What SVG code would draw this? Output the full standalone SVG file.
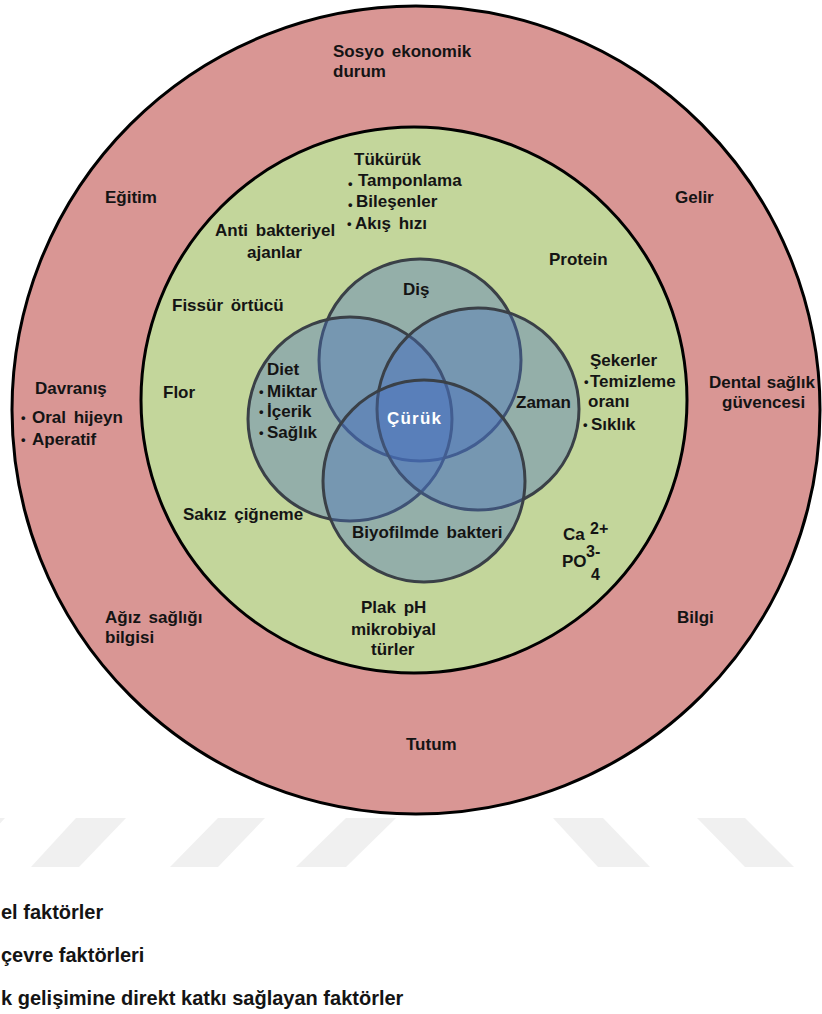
<svg xmlns="http://www.w3.org/2000/svg" width="822" height="1014" viewBox="0 0 822 1014">
<style>
text{font-family:"Liberation Sans",Arial,sans-serif;font-weight:bold;font-size:17px;fill:#141414;word-spacing:3px}
.b{font-size:13px}
.sm{font-size:16px}
.lg{font-size:20px;word-spacing:0}
.w{fill:#ffffff;letter-spacing:1.2px}
.ring{stroke:#000;stroke-width:3}
.venn{fill:#4672C0;fill-opacity:0.38;stroke:#3A4047;stroke-width:3}
.wm{fill:#F0F0F0}
</style>
<rect width="822" height="1014" fill="#ffffff"/>
<g id="watermark">
<polygon class="wm" points="-40,818 5,818 -40,867 -85,867"/>
<polygon class="wm" points="76,818 126,818 79,867 31,867"/>
<polygon class="wm" points="218,818 265,818 218,867 170,867"/>
<polygon class="wm" points="346,818 396,818 346,867 296,867"/>
<polygon class="wm" points="553,818 603,818 650,867 598,867"/>
<polygon class="wm" points="697,818 745,818 794,867 745,867"/>
</g>
<g id="outer-ring">
<ellipse class="ring" cx="416" cy="410" rx="404" ry="404" fill="#D99694"/>
</g>
<g id="inner-ring">
<ellipse class="ring" cx="414" cy="400" rx="273" ry="273" fill="#C3D69B"/>
</g>
<g id="venn-dis"><circle class="venn" cx="420" cy="360" r="101"/></g>
<g id="venn-diet"><circle class="venn" cx="350" cy="419" r="102"/></g>
<g id="venn-zaman"><circle class="venn" cx="478" cy="409" r="101"/></g>
<g id="venn-biyofilm"><circle class="venn" cx="424" cy="481" r="101"/></g>
<g id="connectors"></g>
<g id="outer-labels">
<text x="333" y="57">Sosyo ekonomik</text>
<text x="333" y="77">durum</text>
<text x="105" y="203">Eğitim</text>
<text x="675" y="203">Gelir</text>
<text x="35" y="394">Davranış</text>
<text class="b" x="21" y="422">•</text><text x="32" y="423">Oral hijeyn</text>
<text class="b" x="21" y="444">•</text><text x="32" y="445">Aperatif</text>
<text x="709" y="388" style="word-spacing:1px">Dental sağlık</text>
<text x="722" y="408">güvencesi</text>
<text x="105" y="623">Ağız sağlığı</text>
<text x="105" y="643">bilgisi</text>
<text x="677" y="623">Bilgi</text>
<text x="406" y="750">Tutum</text>
</g>
<g id="inner-labels">
<text x="354" y="165">Tükürük</text>
<text class="b" x="348" y="188">•</text><text x="358" y="186">Tamponlama</text>
<text class="b" x="348" y="209">•</text><text x="356" y="207">Bileşenler</text>
<text class="b" x="347" y="228">•</text><text x="355" y="229">Akış hızı</text>
<text x="215" y="236">Anti bakteriyel</text>
<text x="247" y="258">ajanlar</text>
<text x="549" y="265">Protein</text>
<text x="172" y="311">Fissür örtücü</text>
<text x="163" y="398">Flor</text>
<text x="590" y="366">Şekerler</text>
<text class="b" x="584" y="386">•</text><text x="590" y="387">Temizleme</text>
<text x="588" y="407">oranı</text>
<text class="b" x="583" y="429">•</text><text x="591" y="430">Sıklık</text>
<text x="183" y="520">Sakız çiğneme</text>
<text x="563" y="540">Ca</text><text class="sm" x="590" y="534">2+</text>
<text x="562" y="567">PO</text><text class="sm" x="586" y="557">3-</text><text class="sm" x="591" y="580">4</text>
<text x="361" y="613">Plak pH</text>
<text x="351" y="635">mikrobiyal</text>
<text x="371" y="655">türler</text>
</g>
<g id="venn-labels">
<text x="403" y="295">Diş</text>
<text x="267" y="375">Diet</text>
<text class="b" x="259" y="396">•</text><text x="267" y="397">Miktar</text>
<text class="b" x="259" y="416">•</text><text x="267" y="417">İçerik</text>
<text class="b" x="259" y="437">•</text><text x="267" y="438">Sağlık</text>
<text x="516" y="408">Zaman</text>
<text x="352" y="538">Biyofilmde bakteri</text>
<text class="w" x="387" y="424">Çürük</text>
</g>
<g id="legend">
<text class="lg" x="1" y="919">el faktörler</text>
<text class="lg" x="1" y="962">çevre faktörleri</text>
<text class="lg" x="1" y="1005">k gelişimine direkt katkı sağlayan faktörler</text>
</g>
</svg>
